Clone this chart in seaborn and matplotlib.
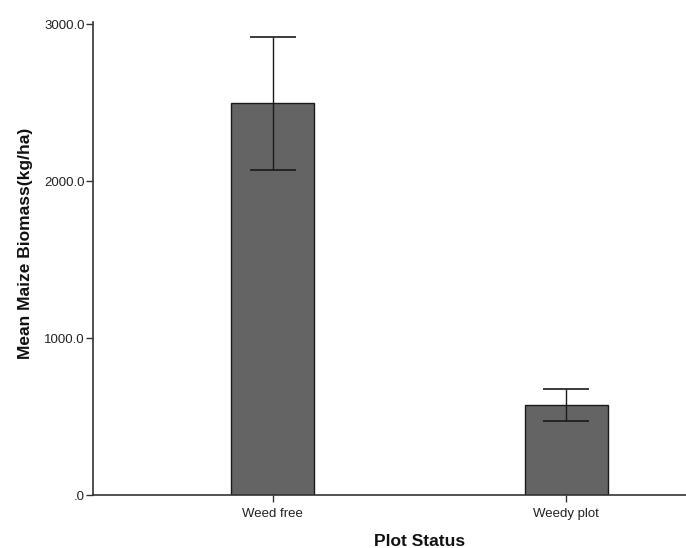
import numpy as np
import pandas as pd
import seaborn as sns
import matplotlib.pyplot as plt

# data
status = ['Weed free', 'Weedy plot']
mean_biomass = [2498, 574]
ci_low = [2073, 474]
ci_high = [2919, 676]
ytick_vals = [0, 1000, 2000, 3000]
ytick_labels = ['.0', '1000.0', '2000.0', '3000.0']

df = pd.DataFrame({'Plot Status': status, 'Biomass': mean_biomass})

sns.set_theme(style="white")
plt.rcParams['font.family'] = ['Liberation Sans', 'DejaVu Sans']

fig = plt.figure(figsize=(6.86, 5.48), dpi=100)
ax = fig.add_axes([0.136, 0.0967, 0.864, 0.8633])

sns.barplot(data=df, x='Plot Status', y='Biomass', color='#646464', saturation=1,
            width=0.283, edgecolor='#1a1a1a', linewidth=1.0, errorbar=None, ax=ax)

# error bars
yerr = [np.array(mean_biomass) - np.array(ci_low), np.array(ci_high) - np.array(mean_biomass)]
ax.errorbar(x=range(len(status)), y=mean_biomass, yerr=yerr, fmt='none',
            ecolor='#1a1a1a', elinewidth=1.0, capsize=16.5, capthick=1.2)

ax.set_xlim(-0.612, 1.409)
ax.set_ylim(0, 3015)
ax.set_yticks(ytick_vals)
ax.set_yticklabels(ytick_labels)

for s in ['top', 'right']:
    ax.spines[s].set_visible(False)
for s in ['left', 'bottom']:
    ax.spines[s].set_color('#333333')
    ax.spines[s].set_linewidth(1.2)

ax.tick_params(axis='both', which='both', direction='out', length=5, width=1,
               color='#333333', labelsize=9.5, labelcolor='#222222',
               left=True, bottom=True)
ax.tick_params(axis='x', pad=4)
ax.tick_params(axis='y', pad=1)

ax.set_xlabel('Plot Status', fontsize=12.5, fontweight='bold', color='#111111')
ax.set_ylabel('Mean Maize Biomass(kg/ha)', fontsize=12.5, fontweight='bold', color='#111111')
ax.xaxis.set_label_coords(0.551, -0.099)
ax.yaxis.set_label_coords(-0.115, 0.531)
ax.xaxis.label.set_va('center')
ax.yaxis.label.set_va('center')

fig.savefig('out.png', dpi=100)
